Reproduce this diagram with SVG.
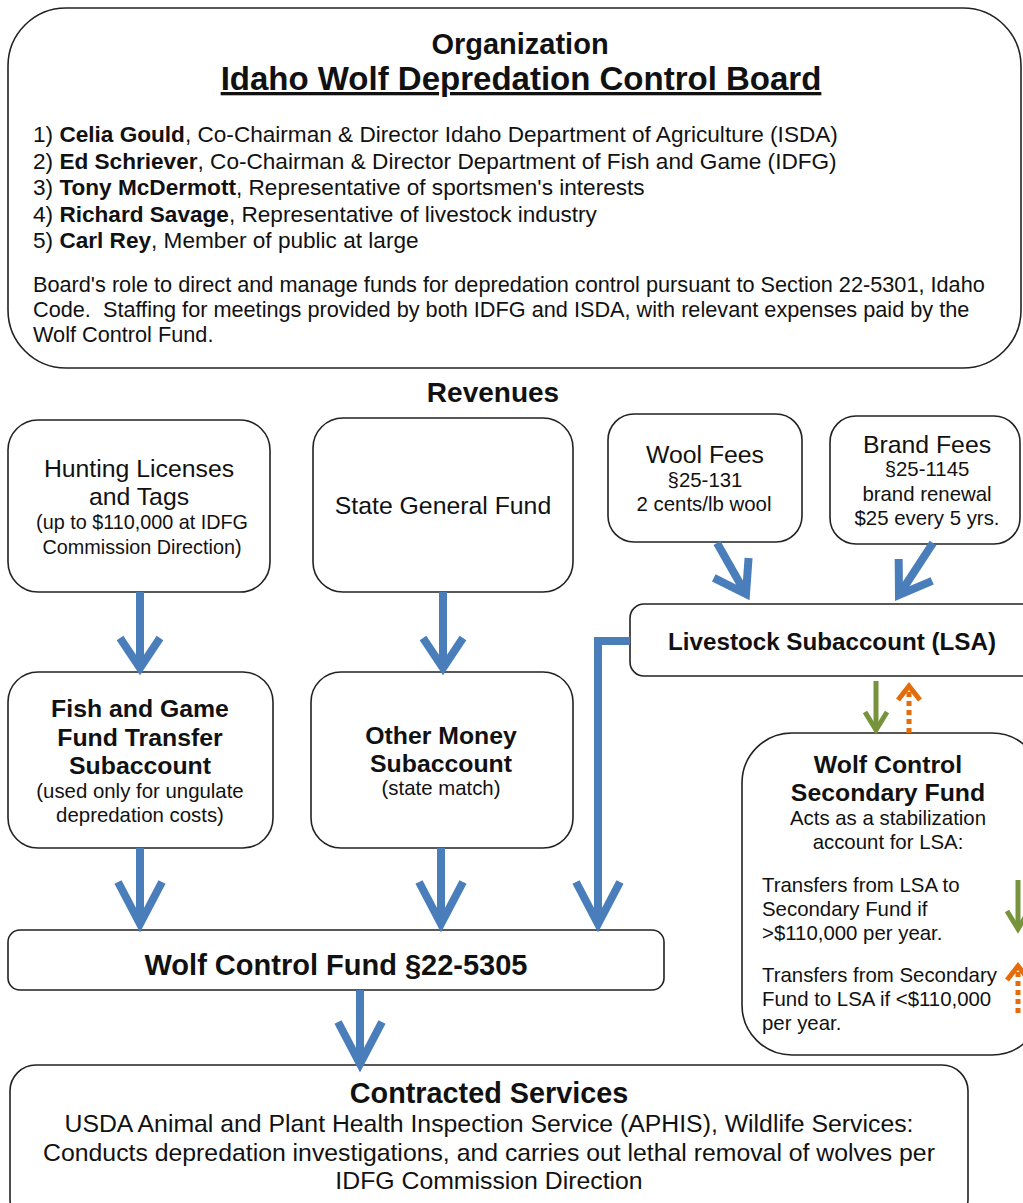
<svg xmlns="http://www.w3.org/2000/svg" width="1023" height="1203" viewBox="0 0 1023 1203">
<style>
text{font-family:"Liberation Sans",Arial,sans-serif;fill:#111;}
.box{fill:#fff;stroke:#222;stroke-width:1.6;}
.b{font-weight:bold;}
.c{text-anchor:middle;}
.big{font-size:24.8px;}
.sm{font-size:20.4px;}
.blue{fill:none;stroke:#4a7ebb;stroke-width:8;}
.green{fill:none;stroke:#77933c;stroke-width:5;}
.orange{fill:none;stroke:#e46c0a;stroke-width:5;}
</style>
<defs>
<marker id="chev" markerUnits="userSpaceOnUse" viewBox="-40 -30 50 60" markerWidth="50" markerHeight="60" refX="0" refY="0" orient="auto" overflow="visible">
<path d="M-30,-20 L0,0 L-30,20" fill="none" stroke="#4a7ebb" stroke-width="8" stroke-linejoin="miter" stroke-miterlimit="10"/>
</marker>
<marker id="chevL" markerUnits="userSpaceOnUse" viewBox="-50 -30 60 60" markerWidth="60" markerHeight="60" refX="0" refY="0" orient="auto" overflow="visible">
<path d="M-42,-22 L0,0 L-42,22" fill="none" stroke="#4a7ebb" stroke-width="8" stroke-linejoin="miter" stroke-miterlimit="10"/>
</marker>
<marker id="gchev" markerUnits="userSpaceOnUse" viewBox="-20 -15 25 30" markerWidth="25" markerHeight="30" refX="0" refY="0" orient="auto" overflow="visible">
<path d="M-18,-11 L0,0 L-18,11" fill="none" stroke="#77933c" stroke-width="5" stroke-linejoin="miter"/>
</marker>
<marker id="ochev" markerUnits="userSpaceOnUse" viewBox="-20 -15 25 30" markerWidth="25" markerHeight="30" refX="0" refY="0" orient="auto" overflow="visible">
<path d="M-14,-11 L0,0 L-14,11" fill="none" stroke="#e46c0a" stroke-width="5" stroke-linejoin="miter"/>
</marker>
</defs>
<rect width="1023" height="1203" fill="#fff"/>

<g id="board">
<rect class="box" x="8" y="8" width="1013" height="360" rx="58"/>
<text class="c b" x="520" y="54" font-size="29">Organization</text>
<text class="c b" x="521" y="90" font-size="33" text-decoration="underline">Idaho Wolf Depredation Control Board</text>
<g font-size="22.6">
<text x="33" y="142">1) <tspan class="b">Celia Gould</tspan>, Co-Chairman &amp; Director Idaho Department of Agriculture (ISDA)</text>
<text x="33" y="168.5">2) <tspan class="b">Ed Schriever</tspan>, Co-Chairman &amp; Director Department of Fish and Game (IDFG)</text>
<text x="33" y="195">3) <tspan class="b">Tony McDermott</tspan>, Representative of sportsmen's interests</text>
<text x="33" y="221.5">4) <tspan class="b">Richard Savage</tspan>, Representative of livestock industry</text>
<text x="33" y="248">5) <tspan class="b">Carl Rey</tspan>, Member of public at large</text>
</g>
<g font-size="21.7">
<text x="33" y="292">Board's role to direct and manage funds for depredation control pursuant to Section 22-5301, Idaho</text>
<text x="33" y="317" xml:space="preserve">Code.  Staffing for meetings provided by both IDFG and ISDA, with relevant expenses paid by the</text>
<text x="33" y="342">Wolf Control Fund.</text>
</g>
</g>

<g id="revenues-title">
<text class="c b" x="493" y="402" font-size="28">Revenues</text>
</g>

<g id="hunting">
<rect class="box" x="8" y="420" width="262" height="172" rx="30"/>
<text class="c big" x="139" y="477">Hunting Licenses</text>
<text class="c big" x="139" y="505">and Tags</text>
<text class="c" x="142" y="529" font-size="19.8">(up to $110,000 at IDFG</text>
<text class="c" x="142" y="554" font-size="19.8">Commission Direction)</text>
</g>

<g id="general-fund">
<rect class="box" x="313" y="418" width="260" height="174" rx="30"/>
<text class="c big" x="443" y="514">State General Fund</text>
</g>

<g id="wool">
<rect class="box" x="608" y="414" width="194" height="128" rx="26"/>
<text class="c big" x="705" y="463">Wool Fees</text>
<text class="c sm" x="705" y="487">§25-131</text>
<text class="c sm" x="704" y="511">2 cents/lb wool</text>
</g>

<g id="brand">
<rect class="box" x="830" y="416" width="190" height="128" rx="26"/>
<text class="c big" x="927" y="453">Brand Fees</text>
<text class="c sm" x="927" y="476">§25-1145</text>
<text class="c sm" x="927" y="501">brand renewal</text>
<text class="c sm" x="927" y="525">$25 every 5 yrs.</text>
</g>

<g id="lsa">
<rect class="box" x="630" y="604" width="420" height="72" rx="14"/>
<text class="c b" x="832" y="650" font-size="24.2">Livestock Subaccount (LSA)</text>
</g>

<g id="fish-game">
<rect class="box" x="8" y="672" width="265" height="176" rx="30"/>
<text class="c b big" x="140" y="717">Fish and Game</text>
<text class="c b big" x="140" y="746">Fund Transfer</text>
<text class="c b big" x="140" y="774">Subaccount</text>
<text class="c sm" x="140" y="798">(used only for ungulate</text>
<text class="c sm" x="140" y="822">depredation costs)</text>
</g>

<g id="other-money">
<rect class="box" x="311" y="672" width="262" height="176" rx="30"/>
<text class="c b big" x="441" y="744">Other Money</text>
<text class="c b big" x="441" y="772">Subaccount</text>
<text class="c sm" x="441" y="795">(state match)</text>
</g>

<g id="secondary">
<rect class="box" x="742" y="733" width="300" height="322" rx="50"/>
<text class="c b big" x="888" y="773">Wolf Control</text>
<text class="c b big" x="888" y="801">Secondary Fund</text>
<text class="c sm" x="888" y="825">Acts as a stabilization</text>
<text class="c sm" x="888" y="849">account for LSA:</text>
<text class="sm" x="762" y="892">Transfers from LSA to</text>
<text class="sm" x="762" y="916">Secondary Fund if</text>
<text class="sm" x="762" y="940">&gt;$110,000 per year.</text>
<text class="sm" x="762" y="982">Transfers from Secondary</text>
<text class="sm" x="762" y="1006">Fund to LSA if &lt;$110,000</text>
<text class="sm" x="762" y="1030">per year.</text>
</g>

<g id="wolf-control-fund">
<rect class="box" x="8" y="930" width="656" height="60" rx="12"/>
<text class="c b" x="336" y="975" font-size="29">Wolf Control Fund §22-5305</text>
</g>

<g id="contracted">
<rect class="box" x="10" y="1065" width="958" height="160" rx="26"/>
<text class="c b" x="489" y="1103" font-size="28.8">Contracted Services</text>
<text class="c big" x="489" y="1132">USDA Animal and Plant Health Inspection Service (APHIS), Wildlife Services:</text>
<text class="c big" x="489" y="1161">Conducts depredation investigations, and carries out lethal removal of wolves per</text>
<text class="c big" x="489" y="1189">IDFG Commission Direction</text>
</g>

<g id="connectors">
<path class="blue" d="M140,592 V668" marker-end="url(#chev)"/>
<path class="blue" d="M443,592 V668" marker-end="url(#chev)"/>
<path class="blue" d="M140,848 V924" marker-end="url(#chevL)"/>
<path class="blue" d="M441,848 V924" marker-end="url(#chevL)"/>
<path class="blue" d="M630,641 H598 V924" marker-end="url(#chevL)"/>
<path class="blue" d="M360,990 V1064" marker-end="url(#chevL)"/>
<path class="blue" d="M717,543 L746,594" marker-end="url(#chev)"/>
<path class="blue" d="M933,543 L899,595" marker-end="url(#chev)"/>
<path class="green" d="M876,681 V730" marker-end="url(#gchev)"/>
<path class="orange" d="M909,733 V686" stroke-dasharray="5,4" marker-end="url(#ochev)"/>
<path class="green" d="M1018,880 V929" marker-end="url(#gchev)"/>
<path class="orange" d="M1018,1013 V966" stroke-dasharray="5,4" marker-end="url(#ochev)"/>
</g>
</svg>
